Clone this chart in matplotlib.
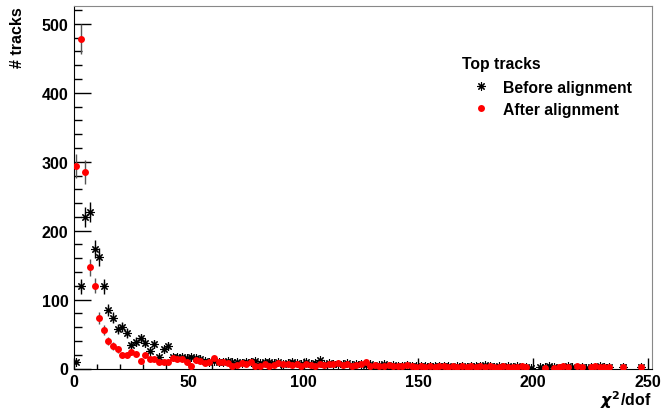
import numpy as np
import matplotlib.pyplot as plt
from matplotlib.ticker import MultipleLocator

plt.rcParams['font.family'] = ['Liberation Sans', 'DejaVu Sans']
plt.rcParams['font.weight'] = 'bold'

# chi2/dof histogram, 2-unit bins from 0 to 250
bin_centers = np.arange(1, 250, 2)

before = [10, 119, 220, 227, 173, 162, 119, 85, 74, 57,
          60, 52, 34, 39, 44, 37, 26, 35, 17, 28,
          33, 17, 16, 17, 15, 16, 15, 14, 11, 10,
          11, 9, 10, 11, 9, 10, 8, 10, 9, 11,
          8, 10, 9, 8, 9, 7, 8, 10, 8, 7,
          9, 7, 8, 12, 7, 8, 6, 7, 6, 8,
          5, 6, 7, 5, 6, 4, 5, 6, 4, 5,
          4, 3, 5, 4, 3, 4, 3, 3, 4, 3,
          3, 4, 2, 3, 3, 2, 3, 4, 3, 5,
          3, 2, 3, 2, 3, 2, 3, 2, 2, 1,
          0, 2, 2, 3, 2, 0, 2, 3, 2, 0,
          2, 1, 2, 2, 3, 2, 2, 0, 0, 2,
          0, 0, 0, 2, 0]

after = [294, 478, 285, 147, 120, 73, 56, 40, 33, 28,
         19, 19, 24, 21, 11, 19, 14, 14, 10, 10,
         10, 15, 14, 14, 10, 4, 12, 11, 8, 10,
         15, 9, 10, 8, 4, 5, 8, 7, 9, 3,
         4, 6, 3, 5, 8, 6, 7, 5, 6, 4,
         7, 5, 4, 6, 5, 7, 6, 8, 5, 7,
         4, 5, 6, 10, 4, 5, 3, 4, 5, 3,
         4, 3, 5, 3, 2, 3, 2, 3, 2, 4,
         3, 2, 3, 2, 3, 2, 3, 2, 3, 2,
         3, 2, 2, 3, 2, 2, 2, 3, 2, 0,
         0, 0, 1, 0, 1, 2, 3, 2, 0, 3,
         2, 0, 2, 3, 2, 2, 2, 0, 0, 2,
         0, 0, 0, 2, 0]

before = np.array(before, dtype=float)
after = np.array(after, dtype=float)

fig = plt.figure(figsize=(6.62, 4.10), dpi=100)
ax = fig.add_axes([74/662, 1 - 369.5/410, 578/662, 362.5/410])

def draw_hist(vals, marker, color, ms, mew, label, ecolor):
    keep = vals > 0
    x = bin_centers[keep]
    y = vals[keep]
    ax.errorbar(x, y, yerr=np.sqrt(y), fmt='none', ecolor=ecolor,
                elinewidth=1.0, capsize=0, zorder=2)
    return ax.plot(x, y, linestyle='none', marker=marker, color=color,
                   markersize=ms, markeredgewidth=mew, label=label, zorder=3)[0]

h1 = draw_hist(before, (8, 2, 0), 'black', 6, 0.8, 'Before alignment', 'black')
h2 = draw_hist(after, 'o', '#ff0000', 5, 0, 'After alignment', '#555555')

ax.set_xlim(0, 251.7)
ax.set_ylim(0, 526)

ax.xaxis.set_major_locator(MultipleLocator(50))
ax.xaxis.set_minor_locator(MultipleLocator(10))
ax.yaxis.set_major_locator(MultipleLocator(100))
ax.yaxis.set_minor_locator(MultipleLocator(20))
ax.tick_params(axis='x', which='major', direction='in', length=8, width=1, labelsize=11.5, pad=4)
ax.tick_params(axis='x', which='minor', direction='in', length=3.8, width=1)
ax.tick_params(axis='y', which='major', direction='in', length=12.5, width=1, labelsize=11.5, pad=4)
ax.tick_params(axis='y', which='minor', direction='in', length=6, width=1)
for lab in ax.get_xticklabels() + ax.get_yticklabels():
    lab.set_fontweight('bold')

for side in ('top', 'right'):
    ax.spines[side].set_color('#888888')
for side in ('left', 'bottom'):
    ax.spines[side].set_color('black')

# axis titles sit in the corners, ROOT style
fig.text(18/662, 1 - 7/410, '# tracks', fontsize=11.5, fontweight='bold',
         rotation=90, ha='center', va='top')
fig.text(651/662, 1 - 400/410, r'$\chi^{\mathbf{2}}$/dof', fontsize=11.5,
         fontweight='bold', ha='right', va='center')

fig.text(462/662, 1 - 64/410, 'Top tracks', fontsize=11.3, fontweight='bold', va='center', ha='left')
ax.legend(handles=[h1, h2], loc='upper left', bbox_to_anchor=(465/662, 1 - 73/410),
          bbox_transform=fig.transFigure, frameon=False,
          handlelength=1.0, handletextpad=0.95, labelspacing=0.45, borderpad=0,
          prop={'weight': 'bold', 'size': 11.3})

fig.savefig('out.png', dpi=100)
